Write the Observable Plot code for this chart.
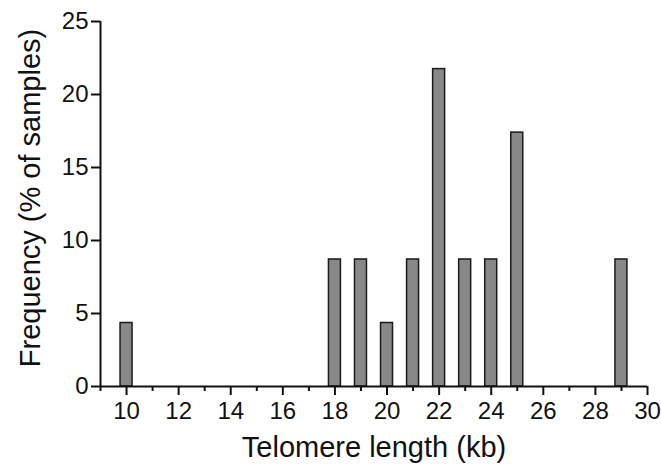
<!DOCTYPE html>
<html>
<head>
<meta charset="utf-8">
<script src="https://cdn.jsdelivr.net/npm/d3@7"></script>
<script src="https://cdn.jsdelivr.net/npm/@observablehq/plot@0.6"></script>
<style>
  html, body { margin: 0; padding: 0; background: #fff; }
  svg { font-family: "Liberation Sans", Arial, Helvetica, sans-serif; }
  #chart g[aria-label$="tick label"], #chart g[aria-label$="tick label"] text { font-size: 24px !important; }
</style>
</head>
<body>
<div id="chart"></div>
<script>
const lengths = [10, 18, 19, 20, 21, 22, 23, 24, 25, 29];
const frequency = [4.35, 8.70, 8.70, 4.35, 8.70, 21.74, 8.70, 8.70, 17.39, 8.70];
const majorTicks = [10, 12, 14, 16, 18, 20, 22, 24, 26, 28, 30];
const minorTicks = [9, 11, 13, 15, 17, 19, 21, 23, 25, 27, 29];
const yTicks = [0, 5, 10, 15, 20, 25];

const data = lengths.map((l, i) => ({len: l, pct: frequency[i]}));
const half = 0.23;

const chart = Plot.plot({
  width: 661,
  height: 466,
  marginLeft: 100,
  marginRight: 14,
  marginTop: 21,
  marginBottom: 80,
  style: {fontFamily: '"Liberation Sans", Arial, sans-serif', background: "#fff", color: "#111"},
  x: {domain: [9, 30]},
  y: {domain: [0, 25]},
  marks: [
    Plot.rectY(data, {
      x1: d => d.len - half,
      x2: d => d.len + half,
      y: "pct",
      fill: "#888888",
      stroke: "#1a1a1a",
      strokeWidth: 1.5
    }),
    Plot.axisX({ticks: majorTicks, tickSize: 9, strokeWidth: 2, tickPadding: 6, fontSize: 24, label: null}),
    Plot.axisX({ticks: minorTicks, tickSize: 5, strokeWidth: 2, tickFormat: () => "", label: null}),
    Plot.axisY({ticks: yTicks, tickSize: 9, strokeWidth: 2, tickPadding: 3, fontSize: 24, label: null}),
    Plot.ruleY([0], {stroke: "#111", strokeWidth: 2}),
    Plot.ruleX([9], {y1: 0, y2: 25, stroke: "#111", strokeWidth: 2}),
    Plot.text(["Telomere length (kb)"], {frameAnchor: "bottom", lineAnchor: "middle", textAnchor: "middle", dy: 61, fontSize: 29, fill: "#111"}),
    Plot.text(["Frequency (% of samples)"], {frameAnchor: "left", lineAnchor: "middle", textAnchor: "middle", dx: -70, dy: -6, rotate: -90, fontSize: 29, fill: "#111"})
  ]
});
document.getElementById("chart").appendChild(chart);
</script>
</body>
</html>
